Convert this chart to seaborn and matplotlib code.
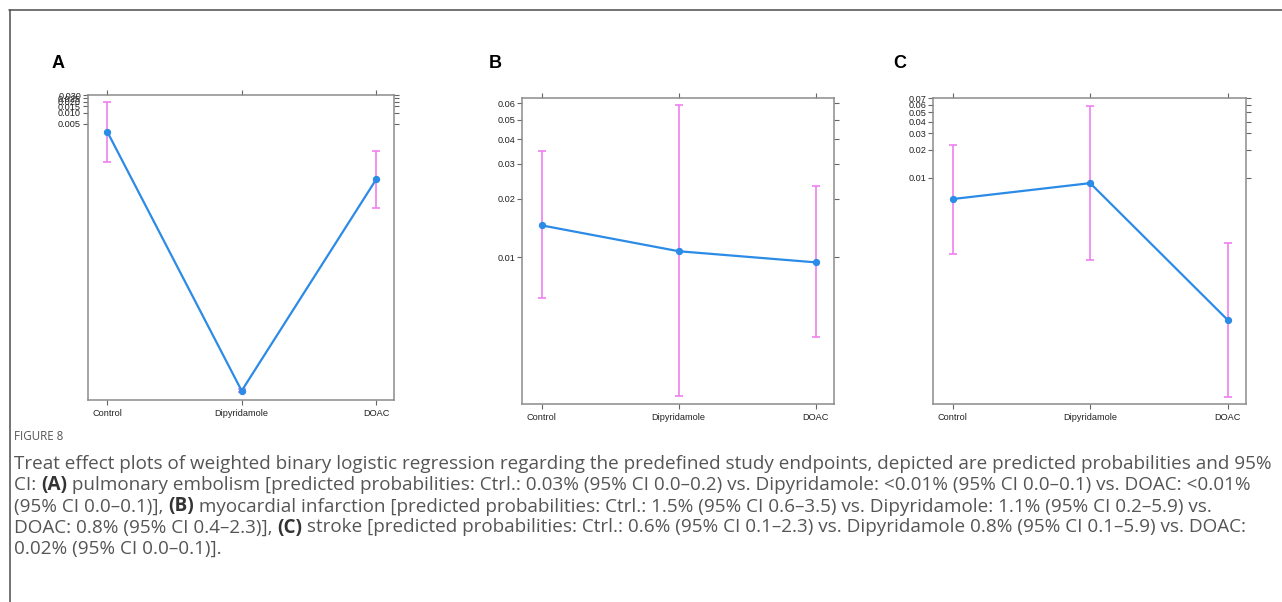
import numpy as np
import pandas as pd
import matplotlib
matplotlib.use("Agg")
import matplotlib.pyplot as plt
import seaborn as sns
from matplotlib.lines import Line2D
from matplotlib.ticker import FixedLocator, FixedFormatter, NullLocator

# ---------------- data ----------------
groups = ["Control", "Dipyridamole", "DOAC"]

# Panel A: pulmonary embolism
a_fit = [0.00301, 2.1e-10, 0.000144]
a_lo = [0.000451, 1.9e-10, 2.28e-5]
a_hi = [0.0199, 2.3e-10, 0.000906]
a_ticks = [0.005, 0.010, 0.015, 0.020, 0.025, 0.030]
a_ticklabels = ["0.005", "0.010", "0.015", "0.020", "0.025", "0.030"]
a_ylim = (1.17e-10, 0.0301)

# Panel B: myocardial infarction
b_fit = [0.0146, 0.01075, 0.00942]
b_lo = [0.00615, 0.00191, 0.00386]
b_hi = [0.0347, 0.0593, 0.0233]
b_ticks = [0.01, 0.02, 0.03, 0.04, 0.05, 0.06]
b_ticklabels = ["0.01", "0.02", "0.03", "0.04", "0.05", "0.06"]
b_ylim = (0.00175, 0.0638)

# Panel C: stroke
c_fit = [0.00587, 0.00874, 0.000280]
c_lo = [0.00149, 0.00126, 4.0e-5]
c_hi = [0.0228, 0.0584, 0.00195]
c_ticks = [0.01, 0.02, 0.03, 0.04, 0.05, 0.06, 0.07]
c_ticklabels = ["0.01", "0.02", "0.03", "0.04", "0.05", "0.06", "0.07"]
c_ylim = (3.37e-5, 0.0701)

panel_letters = ["A", "B", "C"]

figure_label = "FIGURE 8"
caption_lines = [
    [("Treat effect plots of weighted binary logistic regression regarding the predefined study endpoints, depicted are predicted probabilities and 95%", False)],
    [("CI: ", False), ("(A)", True), (" pulmonary embolism [predicted probabilities: Ctrl.: 0.03% (95% CI 0.0\u20130.2) vs. Dipyridamole: <0.01% (95% CI 0.0\u20130.1) vs. DOAC: <0.01%", False)],
    [("(95% CI 0.0\u20130.1)], ", False), ("(B)", True), (" myocardial infarction [predicted probabilities: Ctrl.: 1.5% (95% CI 0.6\u20133.5) vs. Dipyridamole: 1.1% (95% CI 0.2\u20135.9) vs.", False)],
    [("DOAC: 0.8% (95% CI 0.4\u20132.3)], ", False), ("(C)", True), (" stroke [predicted probabilities: Ctrl.: 0.6% (95% CI 0.1\u20132.3) vs. Dipyridamole 0.8% (95% CI 0.1\u20135.9) vs. DOAC:", False)],
    [("0.02% (95% CI 0.0\u20130.1)].", False)],
]

# ---------------- style ----------------
sns.set_theme(style="white")
plt.rcParams["font.family"] = ["Liberation Sans", "DejaVu Sans"]

W, H = 1282, 602
fig = plt.figure(figsize=(W / 100, H / 100), dpi=100)
fig.patch.set_facecolor("white")


def px_rect(l, t, r, b):
    return [l / W, 1 - b / H, (r - l) / W, (b - t) / H]


line_color = "#2b8be6"
ci_color = "#f07ff0"
spine_color = "#8c8c8c"

panels = [
    (px_rect(88, 95, 394, 400), a_fit, a_lo, a_hi, a_ticks, a_ticklabels, a_ylim, (52, 63)),
    (px_rect(522, 98, 834, 403.5), b_fit, b_lo, b_hi, b_ticks, b_ticklabels, b_ylim, (489, 63)),
    (px_rect(933, 98, 1246, 404), c_fit, c_lo, c_hi, c_ticks, c_ticklabels, c_ylim, (893, 63)),
]

for i, (rect, fit, lo, hi, ticks, tlabels, ylim, lpos) in enumerate(panels):
    ax = fig.add_axes(rect)
    df = pd.DataFrame({"group": groups, "pos": np.arange(len(groups)),
                       "fit": fit, "lo": lo, "hi": hi})
    ax.set_yscale("logit")
    ax.errorbar(df["pos"], df["fit"],
                yerr=[df["fit"] - df["lo"], df["hi"] - df["fit"]],
                fmt="none", ecolor=ci_color, elinewidth=1.2, capsize=3,
                capthick=1.2, zorder=2)
    sns.lineplot(data=df, x="pos", y="fit", ax=ax, color=line_color,
                 linewidth=1.6, marker="o", markersize=4.5,
                 markeredgecolor=line_color, markerfacecolor=line_color,
                 zorder=3)
    ax.set_xlim(-0.143, 2.133)
    ax.set_ylim(*ylim)
    ax.yaxis.set_major_locator(FixedLocator(ticks))
    ax.yaxis.set_major_formatter(FixedFormatter(tlabels))
    ax.yaxis.set_minor_locator(NullLocator())
    ax.set_xticks(df["pos"])
    ax.set_xticklabels(groups)
    ax.set_xlabel("")
    ax.set_ylabel("")
    for s in ax.spines.values():
        s.set_color(spine_color)
        s.set_linewidth(1.1)
        s.set_visible(True)
    ax.tick_params(axis="both", which="major", direction="out", length=3.5,
                   width=0.8, color="#666666", labelsize=6.6, labelcolor="#222222",
                   pad=1.5)
    ax.tick_params(axis="x", top=True, labeltop=False, bottom=True, pad=3)
    ax.tick_params(axis="y", right=True, labelright=False, left=True)
    ax.grid(False)
    ax.set_facecolor("white")
    fig.text(lpos[0] / W, 1 - lpos[1] / H, panel_letters[i], fontsize=13,
             fontweight="bold", color="black", ha="left", va="center")

# outer frame lines
fig.add_artist(Line2D([9 / W, 1], [1 - 10 / H, 1 - 10 / H], color="#4d4d4d",
                      linewidth=1.1, transform=fig.transFigure))
fig.add_artist(Line2D([10 / W, 10 / W], [0, 1 - 10 / H], color="#4d4d4d",
                      linewidth=1.1, transform=fig.transFigure))

# caption
cap_font = ["Open Sans", "DejaVu Sans"]
fig.text(14 / W, 1 - 437 / H, figure_label, fontsize=8.3, color="#555555",
         family=cap_font, ha="left", va="center")

renderer = fig.canvas.get_renderer()
# fit caption font size so first line spans ~14..1270 px
probe = fig.text(0, 0, caption_lines[0][0][0], fontsize=10, family=cap_font)
wprobe = probe.get_window_extent(renderer).width
probe.remove()
cap_size = 10 * (1270 - 14) / wprobe

line_y = [464, 485, 506.5, 527.5, 548.5]
for segs, yy in zip(caption_lines, line_y):
    x = 14
    for txt, bold in segs:
        t = fig.text(x / W, 1 - yy / H, txt, fontsize=cap_size, family=cap_font,
                     color="#333333" if bold else "#555555",
                     fontweight="bold" if bold else "normal",
                     ha="left", va="center")
        x += t.get_window_extent(renderer).width

fig.savefig("out.png", dpi=100, facecolor="white")
